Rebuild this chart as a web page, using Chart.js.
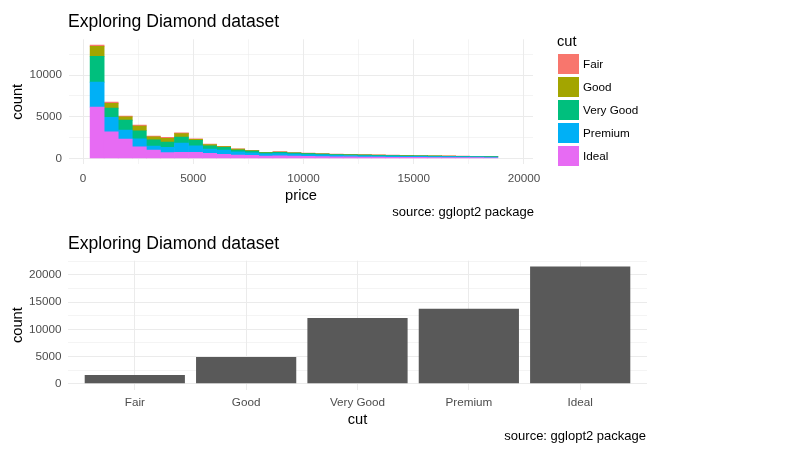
<!DOCTYPE html>
<html><head><meta charset="utf-8">
<script src="https://cdn.jsdelivr.net/npm/chart.js@4/dist/chart.umd.min.js"></script>
<style>
html,body{margin:0;padding:0;background:#fff;}
body{width:794px;height:453px;position:relative;overflow:hidden;font-family:"Liberation Sans",Arial,sans-serif;color:#000;}
.t{position:absolute;white-space:nowrap;line-height:1;}
#c1{position:absolute;left:0;top:0;}
#c2{position:absolute;left:0;top:226px;}
.key{position:absolute;width:21px;height:20px;}
</style></head><body>
<canvas id="c1" width="794" height="226"></canvas>
<canvas id="c2" width="794" height="227"></canvas>
<div class="t" style="left:68px;top:12.7px;font-size:17.6px;">Exploring Diamond dataset</div>
<div class="t" style="right:260px;top:204.5px;font-size:13px;">source: gglopt2 package</div>
<div class="t" style="left:68px;top:234.7px;font-size:17.6px;">Exploring Diamond dataset</div>
<div class="t" style="right:148px;top:429px;font-size:13px;">source: gglopt2 package</div>
<div id="legend"></div>
<script>
// ---- data ----
const cutNames = ['Fair', 'Good', 'Very Good', 'Premium', 'Ideal'];
const cutCounts = [1610, 4906, 12082, 13791, 21551];
// histogram bin centres (price)
const priceBins = [638, 1276, 1913, 2551, 3189, 3827, 4465, 5103, 5740, 6378,
  7016, 7654, 8292, 8930, 9567, 10205, 10843, 11481, 12119, 12757,
  13394, 14032, 14670, 15308, 15946, 16584, 17222, 17859, 18497];
const fairCounts = [150, 150, 100, 100, 100, 110, 100, 60, 60, 40, 40, 30, 20, 40, 40, 40, 35, 30, 30, 30, 25, 25, 20, 20, 20, 20, 20, 15, 15];
const goodCounts = [1200, 580, 390, 570, 350, 450, 430, 130, 150, 80, 110, 60, 40, 40, 30, 30, 25, 25, 20, 20, 20, 15, 15, 15, 15, 15, 10, 10, 10];
const veryGoodCounts = [3100, 1120, 1190, 960, 750, 640, 720, 650, 390, 320, 210, 200, 130, 150, 130, 120, 110, 100, 90, 80, 80, 70, 65, 60, 60, 55, 50, 50, 45];
const premiumCounts = [3000, 1720, 1080, 960, 500, 640, 1100, 790, 520, 520, 390, 310, 260, 270, 240, 220, 200, 180, 170, 150, 140, 135, 125, 120, 110, 105, 100, 90, 85];
const idealCounts = [6150, 3200, 2330, 1410, 1000, 700, 740, 740, 620, 500, 420, 380, 300, 320, 280, 250, 230, 205, 190, 180, 165, 155, 145, 135, 125, 115, 110, 105, 95];
const priceTicks = [0, 5000, 10000, 15000, 20000];
const histCountTicks = [0, 5000, 10000];
const barCountTicks = [0, 5000, 10000, 15000, 20000];

// ---- styles ----
const cutColors = ['#F8766D', '#A3A500', '#00BF7D', '#00B0F6', '#E76BF3'];
const FONT = "'Liberation Sans', Arial, sans-serif";
const tickFont = {family: FONT, size: 11.7};
const axisTitleFont = {family: FONT, size: 14.67};
const GRID = '#EBEBEB';

function withMinors(majors, step, maxV) {
  const out = [];
  for (let v = majors[0]; v <= maxV + 1e-9; v += step) out.push(v);
  return out;
}
function isMajor(list, v) { return list.indexOf(v) >= 0; }

// legend (HTML)
const lg = document.getElementById('legend');
let h = '<div class="t" style="left:557px;top:34.3px;font-size:14.67px;">cut</div>';
cutNames.forEach((n, i) => {
  const top = 54 + 23 * i;
  h += '<div class="key" style="left:558px;top:' + top + 'px;background:' + cutColors[i] + '"></div>';
  h += '<div class="t" style="left:583px;top:' + (top + 4.4) + 'px;font-size:11.7px;">' + n + '</div>';
});
lg.innerHTML = h;

// ---- top: stacked histogram ----
const seriesByCut = [fairCounts, goodCounts, veryGoodCounts, premiumCounts, idealCounts];
const stackOrder = [4, 3, 2, 1, 0]; // Ideal at bottom, Fair on top
const histDatasets = stackOrder.map(i => ({
  label: cutNames[i],
  data: priceBins.map((x, k) => ({x: x, y: seriesByCut[i][k]})),
  backgroundColor: cutColors[i],
  borderWidth: 0,
  barPercentage: 1,
  categoryPercentage: 1
}));

const xTicksTop = withMinors(priceTicks, 2500, 20000);
const yTicksTop = withMinors(histCountTicks, 2500, 12500);

new Chart(document.getElementById('c1'), {
  type: 'bar',
  data: {datasets: histDatasets},
  options: {
    responsive: false, animation: false,
    layout: {padding: {left: 0, right: 794 - 533, top: 39.3, bottom: 19.8}},
    plugins: {legend: {display: false}, tooltip: {enabled: false}, title: {display: false}},
    scales: {
      x: {
        type: 'linear', stacked: true, min: -638, max: 20411, offset: false,
        afterBuildTicks: a => { a.ticks = xTicksTop.map(v => ({value: v})); },
        afterFit: a => { a.height = 42; },
        ticks: {autoSkip: false, maxRotation: 0, padding: 7.4, color: '#4D4D4D', font: tickFont,
          callback: v => isMajor(priceTicks, v) ? String(v) : ''},
        grid: {drawTicks: false, offset: false, color: GRID,
          lineWidth: c => (c.tick && isMajor(priceTicks, c.tick.value)) ? 1 : 0.55},
        border: {display: false},
        title: {display: true, text: 'price', color: '#000', font: axisTitleFont, padding: {top: 0, bottom: 1.2}}
      },
      y: {
        stacked: true, min: -680, max: 14280,
        afterBuildTicks: a => { a.ticks = yTicksTop.map(v => ({value: v})); },
        afterFit: a => { a.width = 69; },
        ticks: {autoSkip: false, padding: 7, color: '#4D4D4D', font: tickFont,
          callback: v => isMajor(histCountTicks, v) ? String(v) : ''},
        grid: {drawTicks: false, color: GRID,
          lineWidth: c => (c.tick && isMajor(histCountTicks, c.tick.value)) ? 1 : 0.55},
        border: {display: false},
        title: {display: true, text: 'count', color: '#000', font: axisTitleFont, padding: {top: 9.2, bottom: 0}}
      }
    }
  }
});

// ---- bottom: bar chart of cut ----
const catPositions = cutNames.map((n, i) => i + 1);
const yTicksBottom = withMinors(barCountTicks, 2500, 22500);

new Chart(document.getElementById('c2'), {
  type: 'bar',
  data: {datasets: [{
    label: 'count',
    data: catPositions.map((x, i) => ({x: x, y: cutCounts[i]})),
    backgroundColor: '#595959', borderWidth: 0,
    barPercentage: 0.9, categoryPercentage: 1
  }]},
  options: {
    responsive: false, animation: false,
    layout: {padding: {left: 0, right: 794 - 647, top: 34.7, bottom: 21.4}},
    plugins: {legend: {display: false}, tooltip: {enabled: false}},
    scales: {
      x: {
        type: 'linear', min: 0.4, max: 5.6, offset: false,
        afterBuildTicks: a => { a.ticks = catPositions.map(v => ({value: v})); },
        afterFit: a => { a.height = 42; },
        ticks: {autoSkip: false, maxRotation: 0, padding: 6.5, color: '#4D4D4D', font: tickFont,
          callback: v => cutNames[v - 1]},
        grid: {drawTicks: false, offset: false, color: GRID, lineWidth: 1},
        border: {display: false},
        title: {display: true, text: 'cut', color: '#000', font: axisTitleFont, padding: {top: 0, bottom: 2.5}}
      },
      y: {
        min: -1078, max: 22629,
        afterBuildTicks: a => { a.ticks = yTicksBottom.map(v => ({value: v})); },
        afterFit: a => { a.width = 68; },
        ticks: {autoSkip: false, padding: 6.5, color: '#4D4D4D', font: tickFont,
          callback: v => isMajor(barCountTicks, v) ? String(v) : ''},
        grid: {drawTicks: false, color: GRID,
          lineWidth: c => (c.tick && isMajor(barCountTicks, c.tick.value)) ? 1 : 0.55},
        border: {display: false},
        title: {display: true, text: 'count', color: '#000', font: axisTitleFont, padding: {top: 9.2, bottom: 0}}
      }
    }
  }
});
</script>
</body></html>
